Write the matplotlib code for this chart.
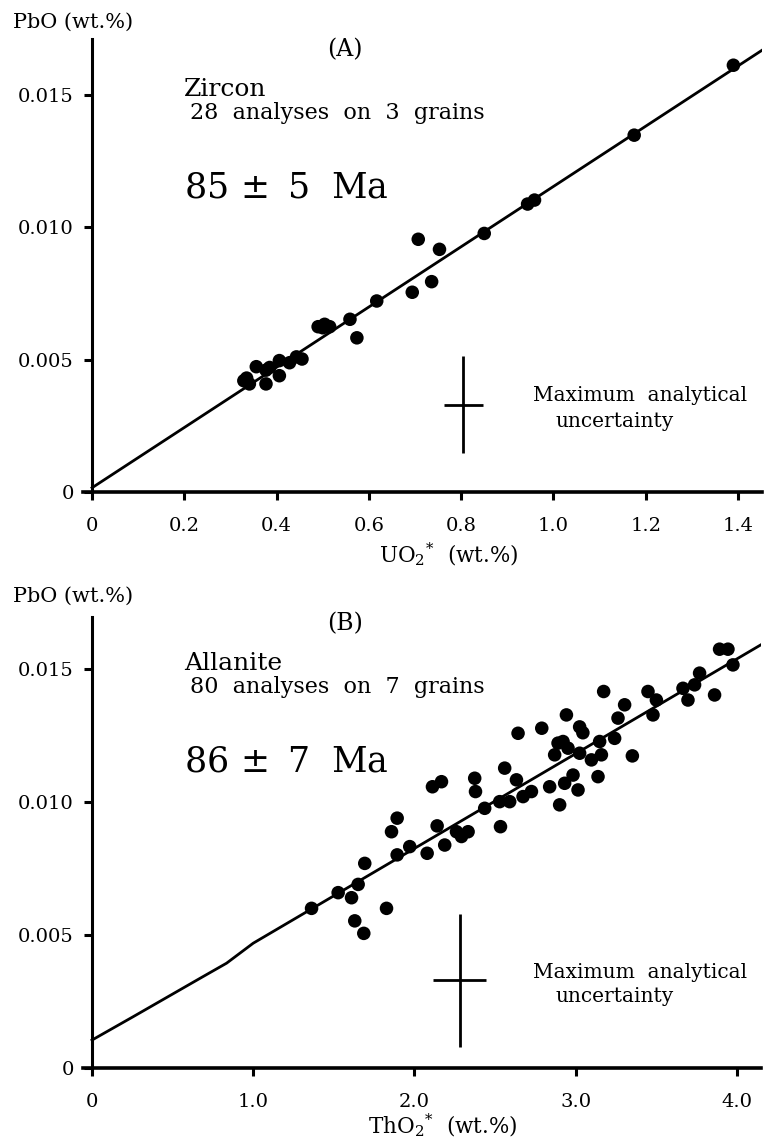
import matplotlib
matplotlib.use('Agg')
import matplotlib.pyplot as plt

plt.rcParams['font.family'] = ['DejaVu Serif']
plt.rcParams['mathtext.fontset'] = 'dejavuserif'

# (A) zircon: UO2* vs PbO (wt.%)
zircon_uo2 = [0.329, 0.341, 0.335, 0.356, 0.377, 0.385, 0.377, 0.406, 0.406, 0.428,
              0.443, 0.455, 0.490, 0.504, 0.500, 0.515, 0.559, 0.574, 0.617, 0.694,
              0.736, 0.707, 0.753, 0.850, 0.944, 0.959, 1.175, 1.390]
zircon_pbo = [0.00420, 0.00408, 0.00430, 0.00473, 0.00460, 0.00470, 0.00408, 0.00496, 0.00439, 0.00488,
              0.00510, 0.00502, 0.00624, 0.00633, 0.00620, 0.00624, 0.00652, 0.00582, 0.00721, 0.00754,
              0.00794, 0.00954, 0.00916, 0.00976, 0.01087, 0.01102, 0.01347, 0.01611]
zircon_line_x = [0, 1.463]
zircon_line_y = [0.00016, 0.0168]
zircon_err = (0.805, 0.0033, 0.043, 0.00183)   # x, y, xerr, yerr

# (B) allanite: ThO2* vs PbO (wt.%)
allanite_tho2 = [1.362, 1.527, 1.610, 1.651, 1.630, 1.686, 1.692, 1.827, 1.858, 1.893,
                 1.893, 1.971, 2.079, 2.112, 2.168, 2.141, 2.188, 2.261, 2.292, 2.333,
                 2.374, 2.379, 2.436, 2.529, 2.534, 2.560, 2.591, 2.633, 2.674, 2.643,
                 2.790, 2.726, 2.839, 2.901, 2.943, 3.025, 3.045, 2.891, 2.922, 2.870,
                 2.953, 3.025, 3.098, 3.149, 3.160, 2.932, 2.984, 3.015, 3.139, 3.242,
                 3.263, 3.304, 3.352, 3.174, 3.449, 3.480, 3.501, 3.666, 3.697, 3.738,
                 3.769, 3.862, 3.893, 3.945, 3.976]
allanite_pbo = [0.00600, 0.00659, 0.00640, 0.00690, 0.00553, 0.00506, 0.00769, 0.00600, 0.00888, 0.00939,
                0.00801, 0.00832, 0.00807, 0.01057, 0.01076, 0.00910, 0.00838, 0.00888, 0.00870, 0.00888,
                0.01089, 0.01039, 0.00976, 0.01001, 0.00907, 0.01127, 0.01001, 0.01083, 0.01020, 0.01258,
                0.01277, 0.01039, 0.01057, 0.00989, 0.01327, 0.01282, 0.01260, 0.01221, 0.01227, 0.01177,
                0.01202, 0.01183, 0.01158, 0.01227, 0.01177, 0.01070, 0.01101, 0.01045, 0.01095, 0.01239,
                0.01315, 0.01365, 0.01173, 0.01415, 0.01415, 0.01327, 0.01383, 0.01427, 0.01383, 0.01440,
                0.01484, 0.01402, 0.01574, 0.01574, 0.01515]
allanite_line_x = [0, 0.256, 0.67, 0.835, 1.0, 4.148]
allanite_line_y = [0.00105, 0.00193, 0.00337, 0.00394, 0.00469, 0.0159]
allanite_err = (2.28, 0.0033, 0.167, 0.0025)

y_ticks = [0, 0.005, 0.010, 0.015]
y_ticklabels = ['0', '0.005', '0.010', '0.015']
uo2_ticks = [0, 0.2, 0.4, 0.6, 0.8, 1.0, 1.2, 1.4]
uo2_ticklabels = ['0', '0.2', '0.4', '0.6', '0.8', '1.0', '1.2', '1.4']
tho2_ticks = [0, 1, 2, 3, 4]
tho2_ticklabels = ['0', '1.0', '2.0', '3.0', '4.0']

W, H = 766, 1142
fig = plt.figure(figsize=(W / 100, H / 100), dpi=100)


def panel(rect, xs, ys, lx, ly, err, xlim, ylim, xticks, xticklabels):
    ax = fig.add_axes(rect)
    ax.plot(lx, ly, color='black', lw=2.0, zorder=2)
    ax.scatter(xs, ys, s=95, color='black', edgecolors='none', zorder=3)
    ex, ey, exe, eye = err
    ax.errorbar([ex], [ey], xerr=[exe], yerr=[eye], fmt='none', ecolor='black',
                elinewidth=2.0, capsize=0)
    ax.set_xlim(*xlim)
    ax.set_ylim(*ylim)
    for s in ['top', 'right']:
        ax.spines[s].set_visible(False)
    ax.spines['left'].set_position(('data', 0))
    ax.spines['left'].set_linewidth(2.2)
    ax.spines['bottom'].set_linewidth(2.6)
    ax.set_xticks(xticks)
    ax.set_xticklabels(xticklabels)
    ax.set_yticks(y_ticks)
    ax.set_yticklabels(y_ticklabels)
    ax.tick_params(axis='x', length=6, width=2.2, pad=12, labelsize=14)
    ax.tick_params(axis='y', length=6, width=2.2, pad=7, labelsize=14)
    return ax


def px(x, y):
    return x / W, 1 - y / H


# top panel (A)
ax1 = panel([83 / W, 1 - 492 / H, 679 / W, (492 - 39) / H],
            zircon_uo2, zircon_pbo, zircon_line_x, zircon_line_y, zircon_err,
            (-0.0196, 1.452), (0, 0.0171), uo2_ticks, uo2_ticklabels)

# bottom panel (B)
ax2 = panel([83 / W, 1 - 1068 / H, 678 / W, (1068 - 617) / H],
            allanite_tho2, allanite_pbo, allanite_line_x, allanite_line_y, allanite_err,
            (-0.0558, 4.15), (0, 0.01695), tho2_ticks, tho2_ticklabels)

# annotations
for dy, letter, mineral, n, age in [(0, '(A)', 'Zircon', '28  analyses  on  3  grains', '85$\\,\\pm$ 5  Ma'),
                                     (574, '(B)', 'Allanite', '80  analyses  on  7  grains', '86$\\,\\pm$ 7  Ma')]:
    fig.text(*px(13, 22 + dy), 'PbO (wt.%)', fontsize=15, va='center', ha='left')
    fig.text(*px(345, 50 + dy), letter, fontsize=17, va='center', ha='center')
    fig.text(*px(184, 90 + dy), mineral, fontsize=18, va='center', ha='left')
    fig.text(*px(190, 113 + dy), n, fontsize=16, va='center', ha='left')
    fig.text(*px(184, 187 + dy), age, fontsize=25, va='center', ha='left')

fig.text(*px(533, 395), 'Maximum  analytical', fontsize=14.5, va='center', ha='left')
fig.text(*px(556, 422), 'uncertainty', fontsize=14.5, va='center', ha='left')
fig.text(*px(533, 973), 'Maximum  analytical', fontsize=14.5, va='center', ha='left')
fig.text(*px(556, 997), 'uncertainty', fontsize=14.5, va='center', ha='left')

fig.text(*px(449, 554), 'UO$_2$$^{*}$  (wt.%)', fontsize=15.5, va='center', ha='center')
fig.text(*px(443, 1125), 'ThO$_2$$^{*}$  (wt.%)', fontsize=15.5, va='center', ha='center')

fig.savefig('out.png', dpi=100)
